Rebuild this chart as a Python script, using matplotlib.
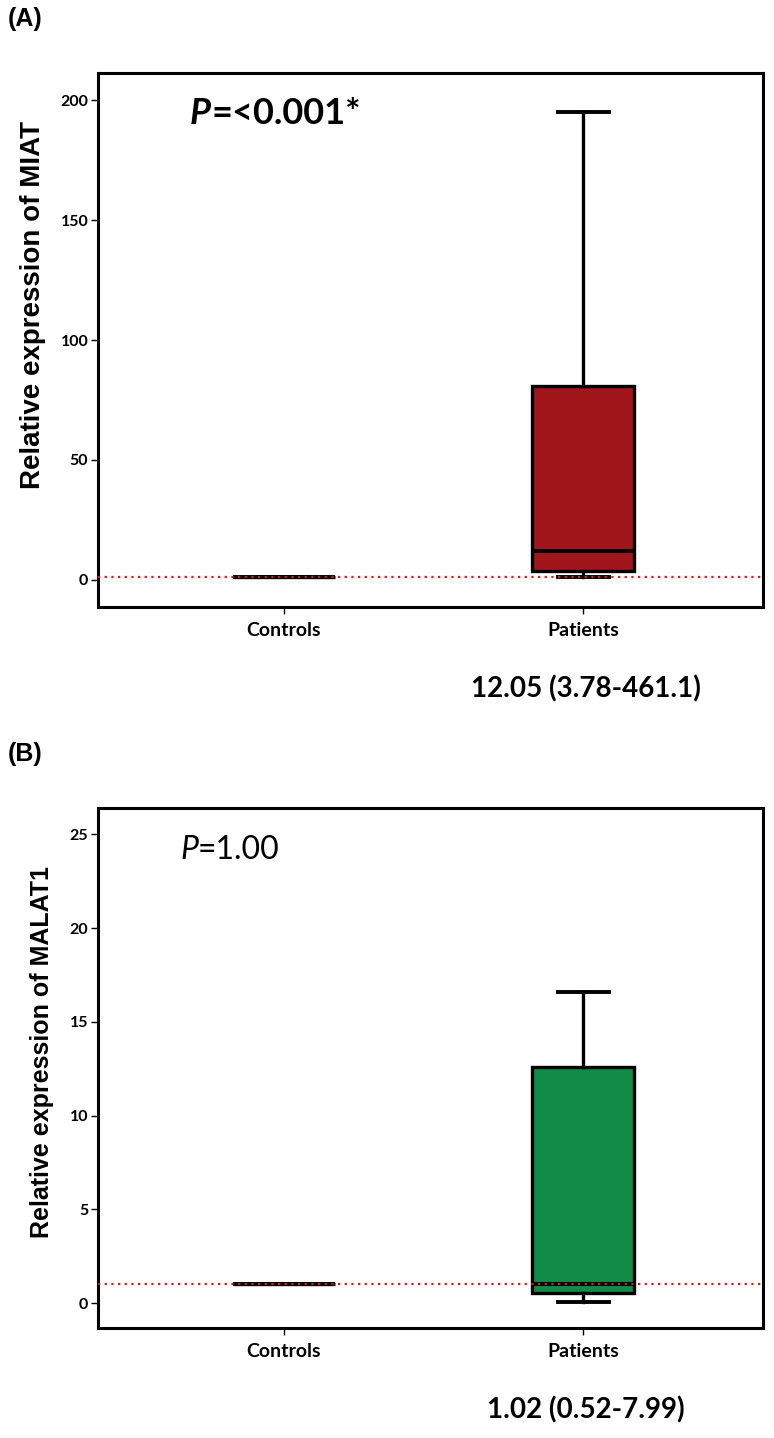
import matplotlib
matplotlib.use("Agg")
import matplotlib.pyplot as plt

# Box summaries (min whisker, Q1, median, Q3, max whisker)
groups = ["Controls", "Patients"]

miat_whislo = [1.0, 1.0]
miat_q1 = [1.0, 3.78]
miat_med = [1.0, 12.05]
miat_q3 = [1.0, 81.0]
miat_whishi = [1.0, 195.0]

malat_whislo = [1.0, 0.05]
malat_q1 = [1.0, 0.52]
malat_med = [1.0, 1.02]
malat_q3 = [1.0, 12.6]
malat_whishi = [1.0, 16.6]

miat_yticks = [0, 50, 100, 150, 200]
malat_yticks = [0, 5, 10, 15, 20, 25]

W, H = 774, 1438
fig = plt.figure(figsize=(W / 100, H / 100), dpi=100)

tick_font = "Lato"
label_font = "Liberation Sans"


def draw_panel(ax, whislo, q1, med, q3, whishi, color, ylim, yticks):
    stats = []
    for i, g in enumerate(groups):
        stats.append(dict(label=g, whislo=whislo[i], q1=q1[i], med=med[i],
                          q3=q3[i], whishi=whishi[i], fliers=[]))
    ax.bxp(stats, positions=[0, 1], widths=0.34, capwidths=0.17,
           patch_artist=True, showfliers=False,
           boxprops=dict(facecolor=color, edgecolor="black", linewidth=2.4),
           medianprops=dict(color="black", linewidth=2.8),
           whiskerprops=dict(color="black", linewidth=2.4),
           capprops=dict(color="black", linewidth=2.8))
    # reference line at relative expression 1
    ax.axhline(1, color="#e8141c", linestyle=(0, (1, 2)), linewidth=1.6, zorder=6)
    ax.set_xlim(-0.62, 1.6)
    ax.set_ylim(*ylim)
    ax.set_yticks(yticks)
    for s in ax.spines.values():
        s.set_linewidth(2.2)
    ax.tick_params(axis="y", direction="out", length=5, width=1, color="black", pad=2)
    ax.tick_params(axis="x", direction="out", length=5, width=1, color="black", pad=6)
    for lab in ax.get_yticklabels():
        lab.set_fontfamily(tick_font)
        lab.set_fontweight("bold")
        lab.set_fontsize(11.5)
    for lab in ax.get_xticklabels():
        lab.set_fontfamily(tick_font)
        lab.set_fontweight("bold")
        lab.set_fontsize(14)


# (A) MIAT
axA = fig.add_axes([98 / W, 1 - 607 / H, 665 / W, 534 / H])
draw_panel(axA, miat_whislo, miat_q1, miat_med, miat_q3, miat_whishi,
           "#a0161b", (-11.3, 211.3), miat_yticks)

# (B) MALAT1
axB = fig.add_axes([98 / W, 1 - 1328 / H, 665 / W, 520 / H])
draw_panel(axB, malat_whislo, malat_q1, malat_med, malat_q3, malat_whishi,
           "#108c48", (-1.33, 26.4), malat_yticks)

# panel letters
fig.text(8 / W, 1 - 19 / H, "(A)", fontsize=18, fontweight="bold",
         family=label_font, va="center", ha="left")
fig.text(8 / W, 1 - 754 / H, "(B)", fontsize=18, fontweight="bold",
         family=label_font, va="center", ha="left")

# y labels
fig.text(33 / W, 1 - 305 / H, "Relative expression of MIAT", rotation=90,
         fontsize=20, fontweight="bold", family=label_font, va="center", ha="center")
fig.text(42 / W, 1 - 1052 / H, "Relative expression of MALAT1", rotation=90,
         fontsize=18, fontweight="bold", family=label_font, va="center", ha="center")

# P values
pA = fig.text(190 / W, 1 - 113 / H, "P", fontsize=26, fontweight="bold",
              style="italic", family=tick_font, va="center", ha="left")
axA.annotate("=<0.001*", xy=(1, 0), xycoords=pA, va="bottom", ha="left",
             fontsize=26, fontweight="bold", family=tick_font)

pB = fig.text(180 / W, 1 - 850 / H, "P", fontsize=23, style="italic",
              family=tick_font, va="center", ha="left")
axB.annotate("=1.00", xy=(1, 0), xycoords=pB, va="bottom", ha="left",
             fontsize=23, family=tick_font)

# median (range) under the patients group
fig.text(586 / W, 1 - 689 / H, "12.05 (3.78-461.1)", fontsize=20,
         fontweight="bold", family=tick_font, va="center", ha="center")
fig.text(586 / W, 1 - 1410 / H, "1.02 (0.52-7.99)", fontsize=20,
         fontweight="bold", family=tick_font, va="center", ha="center")

fig.savefig("out.png", dpi=100, facecolor="white")
